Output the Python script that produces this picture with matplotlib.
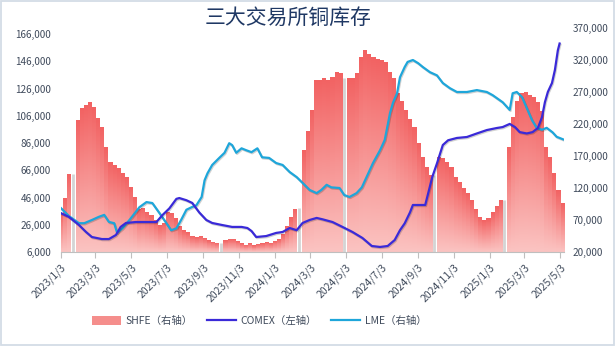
import numpy as np
import pandas as pd
import matplotlib
matplotlib.use("Agg")
import matplotlib.pyplot as plt
import matplotlib.dates as mdates
from matplotlib.patches import Patch, Rectangle
from matplotlib.lines import Line2D
from matplotlib.ticker import FuncFormatter
from matplotlib import patheffects as pe

plt.rcParams["font.family"] = ["Noto Sans CJK SC", "DejaVu Sans"]

# ── Data ────────────────────────────────────────────────────────────────────
# SHFE weekly copper stocks (t), one value per Friday report week; None = holiday week
shfe_weeks = pd.date_range("2023-01-06", "2025-05-09", freq="W-FRI")
shfe_t = [
    # 2023
    81000, 104000, 142000, None, 226000, 245000, 250000, 254000, 247000, 230000,
    215000, 184000, 161000, 156000, 151000, 143000, 137000, 122000, 106000, 86000,
    89000, 83000, 78000, 70000, 62000, 65000, 83000, 81000, 72000, 60000,
    54000, 51000, 45000, 43000, 45000, 42000, 38000, 36000, 34000, None,
    38000, 40000, 40000, 37000, 33000, 31000, 33000, 30000, 32000, 33000,
    35000, 34000,
    # 2024
    37000, 40000, 48000, 60000, 75000, 88000, None, 179000, 210000, 242000,
    289000, 289000, 292000, 290000, 294000, 301000, 300000, None, 292000, 292000,
    300000, 325000, 335000, 330000, 325000, 322000, 320000, 316000, 301000, 292000,
    268000, 255000, 242000, 228000, 215000, 190000, 168000, 152000, 140000, None,
    168000, 166000, 160000, 152000, 137000, 130000, 120000, 112000, 101000, 88000,
    75000, 70000,
    # 2025
    72000, 82000, 92000, 101000, None, 184000, 231000, 256000, 268000, 270000,
    266000, 262000, 254000, 240000, 184000, 168000, 143000, 117000, 96000,
]

comex_dates = [
    "2023-01-03", "2023-01-17", "2023-02-03", "2023-02-15", "2023-02-25", "2023-03-14",
    "2023-03-26", "2023-04-07", "2023-04-15", "2023-04-24", "2023-05-11", "2023-05-29",
    "2023-06-15", "2023-06-25", "2023-07-07", "2023-07-19", "2023-07-24", "2023-08-05",
    "2023-08-15", "2023-08-27", "2023-09-08", "2023-09-18", "2023-10-05", "2023-10-22",
    "2023-11-07", "2023-11-17", "2023-11-24", "2023-12-02", "2023-12-19", "2024-01-05",
    "2024-01-16", "2024-01-28", "2024-02-09", "2024-02-19", "2024-03-02", "2024-03-14",
    "2024-03-24", "2024-04-10", "2024-04-27", "2024-05-14", "2024-05-31", "2024-06-16",
    "2024-06-30", "2024-07-13", "2024-07-25", "2024-08-03", "2024-08-11", "2024-08-20",
    "2024-08-25", "2024-09-01", "2024-09-15", "2024-09-20", "2024-09-27", "2024-10-05",
    "2024-10-15", "2024-10-24", "2024-11-08", "2024-11-25", "2024-12-12", "2024-12-29",
    "2025-01-15", "2025-01-25", "2025-02-06", "2025-02-15", "2025-02-23", "2025-03-07",
    "2025-03-17", "2025-03-26", "2025-04-02", "2025-04-07", "2025-04-12", "2025-04-19",
    "2025-04-24", "2025-04-29", "2025-05-02",
]
comex_t = [
    34600, 31700, 25800, 20700, 17000, 15500,
    15500, 18500, 24400, 27300, 28000, 28000,
    28000, 33000, 38000, 45000, 45600, 44000,
    42000, 35000, 29500, 27300, 25800, 24400,
    24400, 23600, 21400, 17000, 17700, 20000,
    20700, 23600, 22000, 27300, 29500, 31000,
    30000, 28000, 24400, 20700, 16300, 10400,
    9700, 10400, 14800, 22000, 27000, 35000,
    40500, 40500, 40500, 49000, 61000, 71000,
    84500, 88000, 89700, 90400, 93000, 95500,
    97000, 97700, 100000, 97700, 94000, 93000,
    94000, 97000, 105000, 116000, 123500, 130000,
    139600, 154000, 159000,
]

lme_dates = [
    "2023-01-03", "2023-01-17", "2023-02-03", "2023-02-12", "2023-02-25", "2023-03-09",
    "2023-03-18", "2023-03-26", "2023-04-04", "2023-04-09", "2023-04-18", "2023-04-30",
    "2023-05-17", "2023-05-29", "2023-06-08", "2023-06-20", "2023-07-02", "2023-07-10",
    "2023-07-19", "2023-07-27", "2023-08-05", "2023-08-14", "2023-08-22", "2023-08-31",
    "2023-09-05", "2023-09-10", "2023-09-18", "2023-09-30", "2023-10-09", "2023-10-17",
    "2023-10-22", "2023-10-29", "2023-11-07", "2023-11-15", "2023-11-24", "2023-12-04",
    "2023-12-12", "2023-12-24", "2024-01-05", "2024-01-16", "2024-01-28", "2024-02-09",
    "2024-02-19", "2024-03-02", "2024-03-14", "2024-03-22", "2024-03-31", "2024-04-08",
    "2024-04-22", "2024-04-30", "2024-05-09", "2024-05-21", "2024-05-30", "2024-06-07",
    "2024-06-18", "2024-06-30", "2024-07-08", "2024-07-17", "2024-07-22", "2024-07-29",
    "2024-08-03", "2024-08-11", "2024-08-16", "2024-08-25", "2024-09-03", "2024-09-11",
    "2024-09-23", "2024-10-05", "2024-10-15", "2024-10-27", "2024-11-08", "2024-11-25",
    "2024-12-12", "2024-12-29", "2025-01-08", "2025-01-25", "2025-02-06", "2025-02-11",
    "2025-02-18", "2025-02-27", "2025-03-07", "2025-03-16", "2025-03-24", "2025-04-02",
    "2025-04-10", "2025-04-20", "2025-04-27", "2025-05-08",
]
lme_t = [
    88800, 76000, 65000, 65000, 70000, 75000,
    78000, 67000, 65000, 50000, 57000, 70000,
    90000, 98000, 96500, 81000, 65000, 54000,
    57000, 70000, 86000, 90000, 93000, 106000,
    132000, 143000, 156000, 167000, 175000, 190000,
    187000, 175000, 182000, 179000, 176000, 182000,
    168000, 167000, 159000, 156000, 145000, 137000,
    128000, 117000, 112000, 117000, 125000, 121000,
    120000, 109000, 106000, 112000, 121000, 137000,
    159000, 179000, 195000, 237000, 253000, 268000,
    293000, 309000, 317000, 320000, 315000, 309000,
    301000, 296000, 284000, 276000, 270000, 270000,
    273000, 270000, 265000, 254000, 242000, 268000,
    270000, 262000, 245000, 226000, 214000, 211000,
    214000, 207000, 200000, 196000,
]

xtick_labels = [
    "2023/1/3", "2023/3/3", "2023/5/3", "2023/7/3", "2023/9/3", "2023/11/3",
    "2024/1/3", "2024/3/3", "2024/5/3", "2024/7/3", "2024/9/3", "2024/11/3",
    "2025/1/3", "2025/3/3", "2025/5/3",
]

# ── Figure / axes ───────────────────────────────────────────────────────────
W, H = 615, 346
fig = plt.figure(figsize=(W / 100, H / 100), dpi=100)
ax = fig.add_axes([60.5 / W, (H - 252) / H, 503.5 / W, 224 / H])
axc = ax.twinx()                      # COMEX on the left scale, drawn on top
ax.yaxis.tick_right()
axc.yaxis.tick_left()

x_lo = mdates.date2num(pd.Timestamp("2023-01-03")) - 0.5
x_hi = mdates.date2num(pd.Timestamp("2025-05-09")) + 0.5
r_lo, r_hi = 20000, 370000
l_lo, l_hi = 6000, 170400

# LME line (right scale)
lme_x = pd.to_datetime(lme_dates)
ax.plot(lme_x, lme_t, color="#1ea6da", lw=1.6, zorder=4,
        solid_joinstyle="round",
        path_effects=[pe.SimpleLineShadow(offset=(0.6, -0.8), alpha=0.18), pe.Normal()])

# SHFE weekly bars with a per-bar vertical gradient
fri = mdates.date2num(shfe_weeks)
vals = np.array([np.nan if v is None else v for v in shfe_t], dtype=float)
ncol, nrow = 2600, 500
xc = np.linspace(x_lo, x_hi, ncol)
idx = np.clip(np.searchsorted(fri, xc), 0, len(fri) - 1)
col_h = np.where(xc > fri[idx] - 7, vals[idx], np.nan)
yv = np.linspace(r_lo, r_hi, nrow)
with np.errstate(invalid="ignore", divide="ignore"):
    frac = (yv[:, None] - r_lo) / (col_h[None, :] - r_lo)
    inside = yv[:, None] <= col_h[None, :]
top_c = np.array([242, 98, 98]) / 255
bot_c = np.array([251, 196, 194]) / 255
frac = np.nan_to_num(np.clip(frac, 0, 1))
img = np.zeros((nrow, ncol, 4))
img[..., :3] = bot_c + (top_c - bot_c) * frac[..., None]
img[..., 3] = inside.astype(float)
ax.imshow(img, extent=[x_lo, x_hi, r_lo, r_hi], origin="lower",
          aspect="auto", interpolation="nearest", zorder=1)

# holiday weeks: thin grey separators
for i, v in enumerate(shfe_t):
    if v is None and 0 < i < len(shfe_t) - 1:
        h = min(vals[i - 1], vals[i + 1])
        ax.vlines(fri[i] - 3.5, r_lo, h, color="#d4d4d4", lw=2.0, zorder=2)

# COMEX line (left scale)
comex_x = pd.to_datetime(comex_dates)
axc.plot(comex_x, comex_t, color="#3a2ad8", lw=1.6, zorder=5,
         solid_joinstyle="round",
         path_effects=[pe.SimpleLineShadow(offset=(0.6, -0.8), alpha=0.18), pe.Normal()])

# ── Axis styling ────────────────────────────────────────────────────────────
txt_c = "#404b5c"
fmt = FuncFormatter(lambda v, _: f"{int(round(v)):,}")

ax.set_xlim(x_lo, x_hi)
ax.set_ylim(r_lo, r_hi)
ax.set_yticks(range(r_lo, r_hi + 1, 50000))
ax.yaxis.set_major_formatter(fmt)
ax.tick_params(axis="y", length=0, pad=6, labelsize=7.2, labelcolor=txt_c)

axc.set_ylim(l_lo, l_hi)
axc.set_yticks(range(l_lo, 166001, 20000))
axc.yaxis.set_major_formatter(fmt)
axc.tick_params(axis="y", length=0, pad=7, labelsize=7.2, labelcolor=txt_c)

tick_pos = mdates.date2num(pd.to_datetime(xtick_labels, format="%Y/%m/%d"))
ax.set_xticks(tick_pos)
ax.set_xticklabels(xtick_labels, rotation=45, ha="right", rotation_mode="anchor")
ax.tick_params(axis="x", direction="out", length=4, width=0.8, color="#bfbfbf",
               pad=3, labelsize=7.5, labelcolor=txt_c)

for a in (ax, axc):
    for s in a.spines.values():
        s.set_visible(False)
ax.spines["bottom"].set_visible(True)
ax.spines["bottom"].set_color("#bfbfbf")
ax.spines["bottom"].set_linewidth(0.8)

# ── Title, legend, frame ────────────────────────────────────────────────────
fig.text(288 / W, 1 - 18 / H, "三大交易所铜库存", ha="center", va="center",
         fontsize=15, color="#1f3864")

handles = [
    Patch(facecolor="#f58e8c", edgecolor="none"),
    Line2D([0], [0], color="#3a2ad8", lw=1.6),
    Line2D([0], [0], color="#1ea6da", lw=1.6),
]
labels = ["SHFE（右轴）", "COMEX（左轴）", "LME（右轴）"]
leg = fig.legend(handles, labels, loc="center", bbox_to_anchor=(259 / W, 1 - 321 / H),
                 ncol=3, frameon=False, fontsize=7.5, handlelength=2.8,
                 handleheight=1.0, handletextpad=0.4, columnspacing=1.4)
for t in leg.get_texts():
    t.set_color(txt_c)

fig.patches.append(Rectangle((0.0015, 0.002), 0.997, 0.995, transform=fig.transFigure,
                             fill=False, edgecolor="#d3dce6", lw=1.3))

fig.savefig("out.png", dpi=100)
